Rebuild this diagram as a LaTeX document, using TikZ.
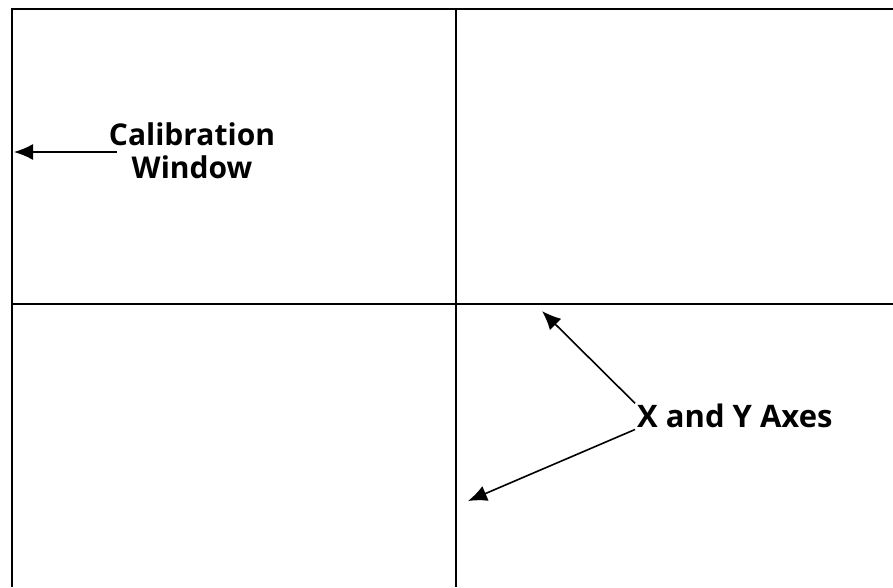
\documentclass[tikz,border=0pt]{standalone}
\usepackage{fontspec}
\setmainfont{Open Sans}
\usetikzlibrary{arrows.meta,positioning}
\tikzset{
  frame/.style={line width=2pt, draw=black},
  label/.style={font=\fontsize{31}{33}\selectfont\bfseries, align=center, inner sep=2pt},
  pointer/.style={-{Latex[length=19pt,width=16pt]}, line width=1.6pt, draw=black}
}
\begin{document}
\begin{tikzpicture}[x=1pt,y=-1pt]
  \useasboundingbox (0,0) rectangle (893,587);
  % window frame and axes
  \draw[frame] (12,587) -- (12,9) -- (893,9);
  \draw[frame] (456,9) -- (456,587);
  \draw[frame] (12,304) -- (893,304);
  % labels
  \node[label, font=\fontsize{30}{33}\selectfont\bfseries] (calib) at (192,151) {Calibration\\Window};
  \node[label, anchor=base west] (axes) at (635,427) {X and Y Axes};
  \coordinate (calibtip) at (14,152);
  \coordinate (xtip) at (542,311);
  \coordinate (ytip) at (468,501);
  % pointers
  \draw[pointer] ([xshift=10pt,yshift=-1pt]calib.west) -- (calibtip);
  \draw[pointer] ([yshift=-2pt]axes.north west) -- (xtip);
  \draw[pointer] (axes.south west) -- (ytip);
\end{tikzpicture}
\end{document}
